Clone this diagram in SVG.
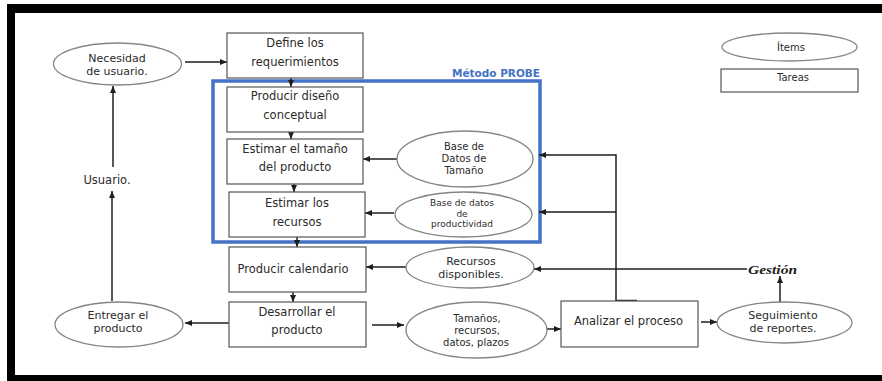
<svg xmlns="http://www.w3.org/2000/svg" width="882" height="381" viewBox="0 0 882 381">
<style>
.box{fill:#fff;stroke:#555;stroke-width:1.2}
.ell{fill:#fff;stroke:#858585;stroke-width:1.3}
.t{font-family:"DejaVu Sans","Open Sans",sans-serif;font-size:11.5px;fill:#2b2b2b;text-anchor:middle}
.e{font-size:11px}
.m{font-size:10.5px}
.s{font-size:10px}
.xs{font-size:9px}
.leg{font-size:10px}
.ln{fill:none;stroke:#1e1e1e;stroke-width:1.5}
</style>
<defs>
<marker id="ah" markerUnits="userSpaceOnUse" markerWidth="7" markerHeight="6" refX="7" refY="3" orient="auto">
<path d="M0,0 L7,3 L0,6 z" fill="#1e1e1e"/>
</marker>
</defs>
<rect width="882" height="381" fill="#fff"/>
<g id="frame" fill="#000">
<rect x="7" y="4" width="875" height="9"/>
<rect x="7" y="4" width="8" height="377"/>
<rect x="7" y="375" width="875" height="6"/>
</g>
<g id="probe">
<rect x="213" y="81" width="327" height="161" fill="none" stroke="#4472C4" stroke-width="3.5"/>
<text x="496" y="77" font-family="'DejaVu Sans','Open Sans',sans-serif" font-size="10.5" font-weight="bold" fill="#4472C4" text-anchor="middle" textLength="88" lengthAdjust="spacingAndGlyphs">Método PROBE</text>
</g>
<g id="connectors" class="ln">
<line x1="185" y1="62" x2="227" y2="62" marker-end="url(#ah)"/>
<line x1="291" y1="78" x2="291" y2="87" marker-end="url(#ah)"/>
<line x1="291" y1="132" x2="291" y2="139" marker-end="url(#ah)"/>
<line x1="294" y1="184" x2="294" y2="192" marker-end="url(#ah)"/>
<line x1="297" y1="237" x2="297" y2="247" marker-end="url(#ah)"/>
<line x1="293" y1="292" x2="293" y2="302" marker-end="url(#ah)"/>
<line x1="229" y1="323" x2="185" y2="323" marker-end="url(#ah)"/>
<line x1="112" y1="301" x2="112" y2="191" marker-end="url(#ah)"/>
<line x1="113" y1="167" x2="113" y2="86" marker-end="url(#ah)"/>
<line x1="397" y1="159" x2="363" y2="159" marker-end="url(#ah)"/>
<line x1="394" y1="213" x2="365" y2="213" marker-end="url(#ah)"/>
<line x1="406" y1="267" x2="366" y2="267" marker-end="url(#ah)"/>
<line x1="372" y1="325" x2="404" y2="325" marker-end="url(#ah)"/>
<line x1="547" y1="329" x2="561" y2="329" marker-end="url(#ah)"/>
<line x1="701" y1="322" x2="717" y2="322" marker-end="url(#ah)"/>
<line x1="780" y1="302" x2="780" y2="276" marker-end="url(#ah)"/>
<line x1="747" y1="269" x2="534" y2="269" marker-end="url(#ah)"/>
<polyline points="616,301 616,155 539,155" marker-end="url(#ah)"/>
<line x1="616" y1="212" x2="539" y2="212" marker-end="url(#ah)"/>
<line x1="616" y1="301" x2="637" y2="301" stroke-width="2.5"/>
</g>
<g id="necesidad">
<ellipse class="ell" cx="117.5" cy="64" rx="64" ry="21"/>
<text class="t e" x="117" y="62">Necesidad</text>
<text class="t e" x="117" y="75">de usuario.</text>
</g>
<g id="usuario">
<text class="t" x="107" y="184">Usuario.</text>
</g>
<g id="entregar">
<ellipse class="ell" cx="119" cy="324.5" rx="64" ry="22.5"/>
<text class="t e" x="118" y="319">Entregar el</text>
<text class="t e" x="118" y="332">producto</text>
</g>
<g id="define">
<rect class="box" x="227" y="33" width="136" height="45"/>
<text class="t" x="295" y="47">Define los</text>
<text class="t" x="295" y="66">requerimientos</text>
</g>
<g id="diseno">
<rect class="box" x="227" y="87" width="136" height="45"/>
<text class="t" x="295" y="100">Producir diseño</text>
<text class="t" x="295" y="119">conceptual</text>
</g>
<g id="tamano">
<rect class="box" x="227" y="139" width="136" height="45"/>
<text class="t" x="295" y="153">Estimar el tamaño</text>
<text class="t" x="295" y="171">del producto</text>
</g>
<g id="recursos">
<rect class="box" x="229" y="192" width="136" height="45"/>
<text class="t" x="297" y="207">Estimar los</text>
<text class="t" x="297" y="226">recursos</text>
</g>
<g id="calendario">
<rect class="box" x="229" y="247" width="137" height="45"/>
<text class="t" x="293" y="273">Producir calendario</text>
</g>
<g id="desarrollar">
<rect class="box" x="229" y="302" width="137" height="45"/>
<text class="t" x="297" y="316">Desarrollar el</text>
<text class="t" x="297" y="334">producto</text>
</g>
<g id="bd-tamano">
<ellipse class="ell" cx="465" cy="159" rx="68" ry="28"/>
<text class="t s" x="464" y="150">Base de</text>
<text class="t s" x="464" y="162">Datos de</text>
<text class="t s" x="464" y="174">Tamaño</text>
</g>
<g id="bd-productividad">
<ellipse class="ell" cx="463.5" cy="214.5" rx="68.5" ry="22.5"/>
<text class="t xs" x="462" y="206">Base de datos</text>
<text class="t xs" x="462" y="216.5">de</text>
<text class="t xs" x="462" y="227">productividad</text>
</g>
<g id="recursos-disponibles">
<ellipse class="ell" cx="470" cy="267.5" rx="64" ry="20.5"/>
<text class="t e" x="471" y="265">Recursos</text>
<text class="t e" x="471" y="278">disponibles.</text>
</g>
<g id="tamanos">
<ellipse class="ell" cx="476.5" cy="330" rx="70.5" ry="28"/>
<text class="t s" x="477" y="322">Tamaños,</text>
<text class="t s" x="477" y="334">recursos,</text>
<text class="t s" x="476" y="346">datos, plazos</text>
</g>
<g id="analizar">
<rect class="box" x="561" y="301" width="137" height="46"/>
<text class="t" x="628.5" y="324.5">Analizar el proceso</text>
</g>
<g id="seguimiento">
<ellipse class="ell" cx="784.5" cy="322.5" rx="67.5" ry="20.5"/>
<text class="t e" x="783" y="319">Seguimiento</text>
<text class="t e" x="783" y="332">de reportes.</text>
</g>
<g id="gestion">
<text x="772.5" y="274" font-family="'Liberation Serif',serif" font-size="13" font-weight="bold" font-style="italic" fill="#1e1e1e" text-anchor="middle" textLength="49" lengthAdjust="spacingAndGlyphs">Gestión</text>
</g>
<g id="legend-items">
<ellipse class="ell" cx="789.5" cy="47" rx="67.5" ry="14"/>
<text class="t leg" x="791" y="51">Ítems</text>
</g>
<g id="legend-tareas">
<rect class="box" x="721" y="69" width="137" height="23"/>
<text class="t leg" x="793" y="81">Tareas</text>
</g>
</svg>
